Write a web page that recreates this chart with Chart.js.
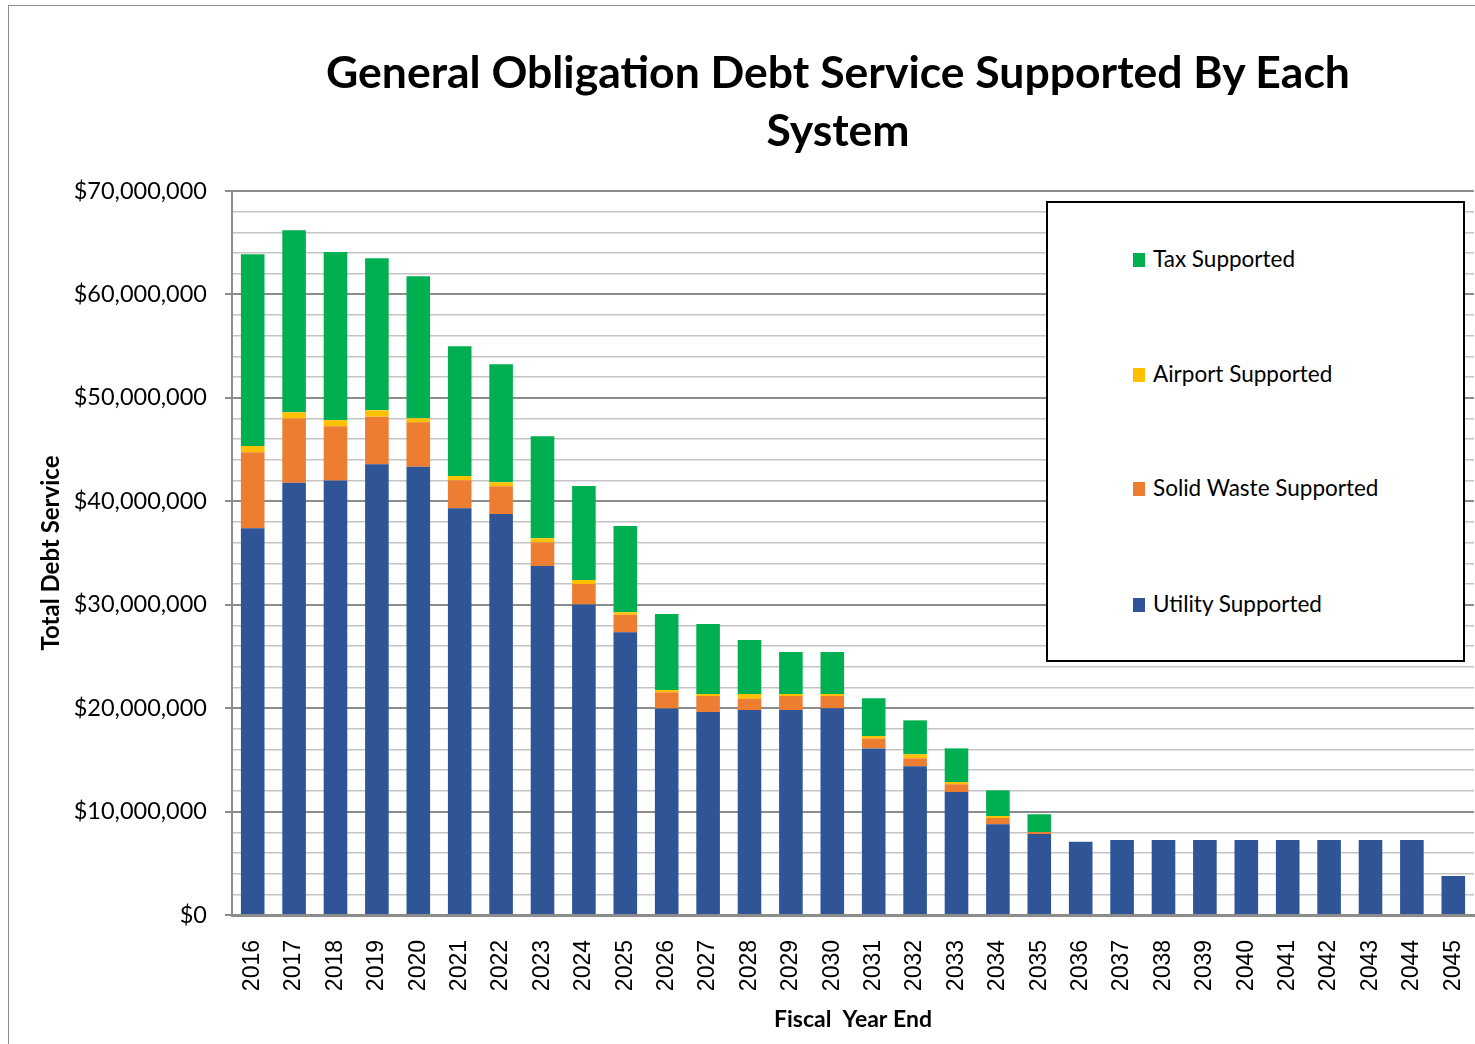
<!DOCTYPE html>
<html>
<head>
<meta charset="utf-8">
<script src="https://cdn.jsdelivr.net/npm/chart.js@4.4.1/dist/chart.umd.min.js"></script>
<style>
  html, body { margin: 0; padding: 0; background: #fff; overflow: hidden; width: 1475px; height: 1044px; }
  #frame { position: absolute; left: 8px; top: 5px; width: 1600px; height: 1200px; border: 1.5px solid #8c8c8c; box-sizing: border-box; }
  #c { position: absolute; left: 0; top: 0; }
  #title { position: absolute; left: 238px; width: 1200px; top: 42px; text-align: center; font-family: Lato, sans-serif; font-weight: bold; font-size: 44.5px; line-height: 58px; color: #000; }
  #legend { position: absolute; left: 1046px; top: 201px; width: 419px; height: 461px; border: 2px solid #000; box-sizing: border-box; background: #fff; }
  .li { position: absolute; left: 85px; height: 24px; font-family: Lato, sans-serif; font-size: 22.5px; color: #000; white-space: nowrap; }
  .li .sw { position: absolute; left: 0; top: 4px; width: 12px; height: 14px; }
  .li .tx { position: absolute; left: 20px; top: -3px; line-height: 26px; }
</style>
</head>
<body>
<div id="frame"></div>
<canvas id="c" width="1475" height="1044"></canvas>
<div id="title">General Obligation Debt Service Supported By Each<br>System</div>
<div id="legend"></div>
<script>
// ---- data ----
const years = ['2016','2017','2018','2019','2020','2021','2022','2023','2024','2025','2026','2027','2028','2029','2030','2031','2032','2033','2034','2035','2036','2037','2038','2039','2040','2041','2042','2043','2044','2045'];
const utilitySupported = [37400000, 41800000, 42000000, 43570000, 43350000, 39320000, 38770000, 33740000, 30030000, 27330000, 19970000, 19630000, 19820000, 19820000, 19980000, 16110000, 14380000, 11890000, 8770000, 7820000, 7090000, 7250000, 7250000, 7250000, 7250000, 7250000, 7250000, 7250000, 7250000, 3770000];
const solidWasteSupported = [7350000, 6200000, 5260000, 4610000, 4280000, 2710000, 2680000, 2290000, 1970000, 1700000, 1560000, 1540000, 1090000, 1350000, 1190000, 940000, 770000, 750000, 610000, 200000, 0, 0, 0, 0, 0, 0, 0, 0, 0, 0];
const airportSupported = [600000, 600000, 580000, 610000, 390000, 410000, 380000, 390000, 390000, 240000, 220000, 200000, 460000, 200000, 200000, 260000, 380000, 220000, 190000, 0, 0, 0, 0, 0, 0, 0, 0, 0, 0, 0];
const taxSupported = [18540000, 17600000, 16270000, 14700000, 13730000, 12540000, 11410000, 9860000, 9090000, 8340000, 7350000, 6760000, 5220000, 4060000, 4060000, 3640000, 3290000, 3250000, 2480000, 1720000, 0, 0, 0, 0, 0, 0, 0, 0, 0, 0];
const seriesNames = ['Utility Supported', 'Solid Waste Supported', 'Airport Supported', 'Tax Supported'];
const seriesColors = ['#2F5597', '#ED7D31', '#FFC000', '#00B050'];
const yTickMax = 70000000;
const yTickStep = 2000000;
const yLabelStep = 10000000;

const seriesValues = [utilitySupported, solidWasteSupported, airportSupported, taxSupported];
const datasets = seriesNames.map((name, i) => ({
  label: name,
  data: seriesValues[i],
  backgroundColor: seriesColors[i],
  borderWidth: 0,
  barPercentage: 0.57,
  categoryPercentage: 1.0,
  stack: 's'
}));

const isMajor = v => Math.round(v) % yLabelStep === 0;

new Chart(document.getElementById('c'), {
  type: 'bar',
  data: { labels: years, datasets },
  options: {
    responsive: false,
    animation: false,
    layout: { padding: { left: 0, top: 191, right: 1, bottom: 0 } },
    plugins: { legend: { display: false }, title: { display: false }, tooltip: { enabled: false } },
    scales: {
      x: {
        stacked: true,
        grid: { display: false, drawTicks: false },
        border: { display: true, color: '#8c8c8c', width: 3 },
        ticks: {
          autoSkip: false, minRotation: 90, maxRotation: 90, padding: 25,
          color: '#000', font: { family: '"Liberation Sans", Arial, sans-serif', size: 23 }
        },
        title: {
          display: true, text: 'Fiscal  Year End', color: '#000',
          font: { family: 'Lato, sans-serif', size: 23, weight: 'bold' },
          padding: { top: 0, bottom: 11 }
        },
        afterFit: s => { s.height = 129; s.paddingLeft = 0; s.paddingRight = 0; }
      },
      y: {
        stacked: true,
        min: 0, max: yTickMax,
        grid: {
          color: c => isMajor(c.tick.value) ? '#8c8c8c' : '#c4c4c4',
          lineWidth: c => isMajor(c.tick.value) ? 2 : 1.5,
          tickColor: c => isMajor(c.tick.value) ? '#8c8c8c' : 'rgba(0,0,0,0)',
          tickLength: 7,
          drawTicks: true
        },
        border: { display: true, color: '#8c8c8c', width: 2 },
        ticks: {
          stepSize: yTickStep, autoSkip: false, padding: 18, color: '#000',
          font: { family: 'Lato, sans-serif', size: 23.5 },
          callback: v => isMajor(v) ? '$' + Number(v).toLocaleString('en-US') : ''
        },
        title: {
          display: true, text: 'Total Debt Service', color: '#000',
          font: { family: 'Lato, sans-serif', size: 24, weight: 'bold' },
          padding: { top: 37, bottom: 0 }
        },
        afterFit: s => { s.width = 232; }
      }
    }
  }
});

// legend (reverse order: top of stack first)
const legend = document.getElementById('legend');
const itemTops = [46, 161, 275, 391];
[3, 2, 1, 0].forEach((di, k) => {
  const d = document.createElement('div');
  d.className = 'li';
  d.style.top = itemTops[k] + 'px';
  d.innerHTML = '<span class="sw" style="background:' + seriesColors[di] + '"></span><span class="tx">' + seriesNames[di] + '</span>';
  legend.appendChild(d);
});
</script>
</body>
</html>
